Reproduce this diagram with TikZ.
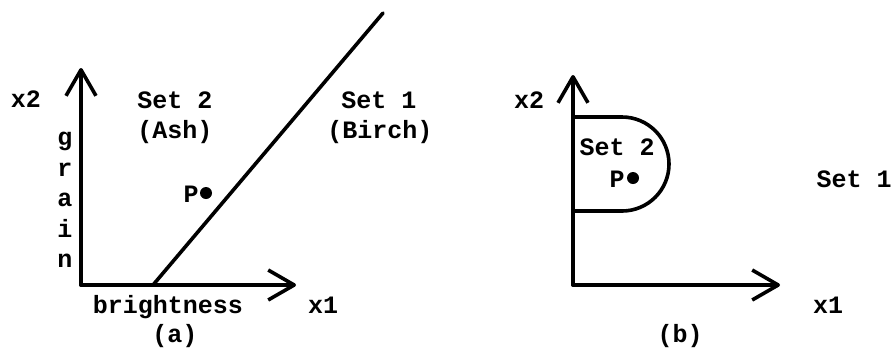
\documentclass[tikz,border=0pt]{standalone}
\usepackage{fontspec}
\setmonofont{Liberation Mono}
\usetikzlibrary{arrows.meta}

\begin{document}
\begin{tikzpicture}[x=0.5pt, y=-0.5pt,
  lbl/.style={font=\ttfamily\bfseries\fontsize{12.5}{15.25}\selectfont, inner sep=0pt, anchor=base},
  axis/.style={-{Straight Barb[length=13pt, width=15pt, line join=round]}, line width=1.8pt, line cap=round},
  bound/.style={line width=1.8pt, line cap=round, line join=round},
  dot/.style={circle, fill=black, inner sep=0pt, minimum size=6pt}]
\useasboundingbox (0,0) rectangle (893,350);

% panel (a)
\coordinate (oa) at (81,285);
\coordinate (ya) at (81,68);
\coordinate (xa) at (296,285);
\coordinate (cut) at (153,285);
\coordinate (far) at (383,13);
\draw[axis] (oa) -- (ya);
\draw[axis] (oa) -- (xa);
\draw[bound] (cut) -- (far);

\node[lbl] (x2a) at (26,107) {x2};
\node[lbl] (x1a) at (323,313) {x1};
\node[lbl] (set2a) at (175,108) {Set 2};
\node[lbl] (ash) at (175,138) {(Ash)};
\node[lbl] (set1a) at (379,108) {Set 1};
\node[lbl] (birch) at (380,138) {(Birch)};
\node[lbl, anchor=north, align=center] (grain) at (65,132) {g\\r\\a\\i\\n};
\node[lbl] (bright) at (168,313) {brightness};
\node[lbl] (capa) at (175,342) {(a)};
\node[dot] (pa) at (206,193) {};
\node[lbl] (pla) at (191,202) {P};

% panel (b)
\coordinate (ob) at (573,285);
\coordinate (yb) at (573,75);
\coordinate (xb) at (780,285);
\coordinate (rtop) at (573,117);
\draw[axis] (ob) -- (yb);
\draw[axis] (ob) -- (xb);
\draw[bound] (rtop) -- ++(49,0) arc (-90:90:47) -- ++(-49,0);

\node[lbl] (x2b) at (529,108) {x2};
\node[lbl] (x1b) at (828,313) {x1};
\node[lbl] (set2b) at (617,155) {Set 2};
\node[dot] (pb) at (633,178) {};
\node[lbl] (plb) at (617,187) {P};
\node[lbl] (set1b) at (854,187) {Set 1};
\node[lbl] (capb) at (680,342) {(b)};
\end{tikzpicture}
\end{document}
